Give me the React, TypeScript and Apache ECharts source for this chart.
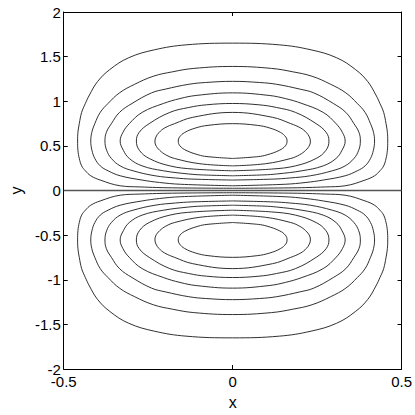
import React, { useEffect, useRef } from "react";
import * as echarts from "echarts";

// Right half of each upper contour (x >= 0), from the bottom crossing of x = 0 up to the top crossing.
// Contour levels are 1/8 ... 7/8 of the peak; the lower half-plane is the mirror image (y -> -y).
const contour1: [number, number][] = [
  [0, 0.025], [0.178, 0.03], [0.274, 0.04], [0.333, 0.053], [0.392, 0.117], [0.42, 0.165],
  [0.436, 0.221], [0.447, 0.276], [0.454, 0.359], [0.458, 0.45], [0.459, 0.554], [0.458, 0.65],
  [0.454, 0.749], [0.447, 0.875], [0.436, 0.975], [0.424, 1.07], [0.4, 1.22], [0.364, 1.354],
  [0.308, 1.487], [0.232, 1.576], [0.138, 1.632], [0, 1.651],
];
const contour2: [number, number][] = [
  [0, 0.053], [0.155, 0.07], [0.217, 0.09], [0.268, 0.117], [0.333, 0.165], [0.369, 0.221],
  [0.392, 0.276], [0.408, 0.359], [0.4165, 0.45], [0.42, 0.554], [0.417, 0.65], [0.408, 0.749],
  [0.392, 0.875], [0.369, 0.975], [0.335, 1.094], [0.29, 1.19], [0.235, 1.28], [0.178, 1.33],
  [0.115, 1.368], [0, 1.39],
];
const contour3: [number, number][] = [
  [0, 0.117], [0.121, 0.128], [0.169, 0.14], [0.23, 0.165], [0.295, 0.221], [0.333, 0.276],
  [0.359, 0.359], [0.373, 0.45], [0.378, 0.554], [0.374, 0.65], [0.359, 0.749], [0.335, 0.875],
  [0.298, 0.975], [0.24, 1.094], [0.2, 1.135], [0.13, 1.19], [0.08, 1.21], [0, 1.223],
];
const contour4: [number, number][] = [
  [0, 0.165], [0.093, 0.175], [0.13, 0.185], [0.205, 0.221], [0.268, 0.276], [0.306, 0.359],
  [0.3235, 0.45], [0.333, 0.554], [0.325, 0.65], [0.306, 0.749], [0.268, 0.875], [0.205, 0.975],
  [0.156, 1.03], [0.108, 1.065], [0, 1.094],
];
const contour5: [number, number][] = [
  [0, 0.221], [0.115, 0.24], [0.186, 0.276], [0.247, 0.359], [0.276, 0.45], [0.285, 0.554],
  [0.277, 0.65], [0.247, 0.749], [0.186, 0.875], [0.13, 0.93], [0.078, 0.96], [0, 0.975],
];
const contour6: [number, number][] = [
  [0, 0.276], [0.097, 0.3], [0.172, 0.359], [0.198, 0.4], [0.216, 0.45], [0.228, 0.51],
  [0.23, 0.554], [0.227, 0.6], [0.218, 0.65], [0.2015, 0.7], [0.172, 0.749], [0.118, 0.82],
  [0, 0.875],
];
const contour7: [number, number][] = [
  [0, 0.359], [0.076, 0.38], [0.102, 0.4], [0.138, 0.45], [0.156, 0.5], [0.161, 0.554],
  [0.157, 0.6], [0.142, 0.65], [0.11, 0.7], [0.073, 0.73], [0, 0.749],
];
const zeroLine: [number, number][] = [[-0.5, 0], [0.5, 0]];

const contours = [contour1, contour2, contour3, contour4, contour5, contour6, contour7];

const FONT = "'Liberation Sans Narrow', 'Liberation Sans', Arial, sans-serif";

function closeLoop(half: [number, number][]): [number, number][] {
  const left = half.slice(0, -1).reverse().map(([x, y]) => [-x, y] as [number, number]);
  return [...half, ...left];
}

export default function App() {
  const ref = useRef<HTMLDivElement>(null);
  useEffect(() => {
    if (!ref.current) return;
    const chart = echarts.init(ref.current, undefined, { renderer: "svg" });
    const lineStyle = { color: "#1a1a1a", width: 0.9 };
    const series: any[] = [];
    contours.forEach((c, i) => {
      const upper = closeLoop(c);
      const lower = upper.map(([x, y]) => [x, -y] as [number, number]);
      [upper, lower].forEach((d, j) => {
        series.push({
          name: `c${i}_${j}`,
          type: "line",
          data: d,
          showSymbol: false,
          symbol: "none",
          smooth: 0.4,
          silent: true,
          lineStyle,
          xAxisIndex: 0,
          yAxisIndex: 0,
        });
      });
    });
    series.push({
      name: "zero",
      type: "line",
      data: zeroLine,
      showSymbol: false,
      symbol: "none",
      silent: true,
      lineStyle: { color: "#555", width: 1.4 },
    });
    const axisCommon = {
      type: "value",
      splitLine: { show: false },
      axisLine: { show: true, onZero: false, lineStyle: { color: "#000", width: 1 } },
      axisTick: { show: true, inside: true, length: 4, lineStyle: { color: "#000", width: 1 } },
    };
    chart.setOption({
      animation: false,
      grid: { left: 49, top: 12, right: 12, bottom: 44, containLabel: false },
      xAxis: [
        {
          ...axisCommon,
          min: -0.5,
          max: 0.5,
          interval: 0.5,
          position: "bottom",
          name: "x",
          nameLocation: "middle",
          nameGap: 25,
          nameTextStyle: { fontFamily: FONT, fontSize: 16, color: "#000" },
          axisLabel: { fontFamily: FONT, fontSize: 15, color: "#000", margin: 5 },
        },
        {
          ...axisCommon,
          min: -0.5,
          max: 0.5,
          interval: 0.5,
          position: "top",
          axisLabel: { show: false },
        },
      ],
      yAxis: [
        {
          ...axisCommon,
          min: -2,
          max: 2,
          interval: 0.5,
          position: "left",
          name: "y",
          nameLocation: "middle",
          nameRotate: 90,
          nameGap: 34,
          nameTextStyle: { fontFamily: FONT, fontSize: 16, color: "#000" },
          axisLabel: { fontFamily: FONT, fontSize: 15, color: "#000", margin: 3 },
        },
        {
          ...axisCommon,
          min: -2,
          max: 2,
          interval: 0.5,
          position: "right",
          axisLabel: { show: false },
        },
      ],
      series,
    });
    return () => chart.dispose();
  }, []);
  return (
    <div
      ref={ref}
      style={{ position: "fixed", left: 0, top: 0, width: 415, height: 415, background: "#fff" }}
    />
  );
}
